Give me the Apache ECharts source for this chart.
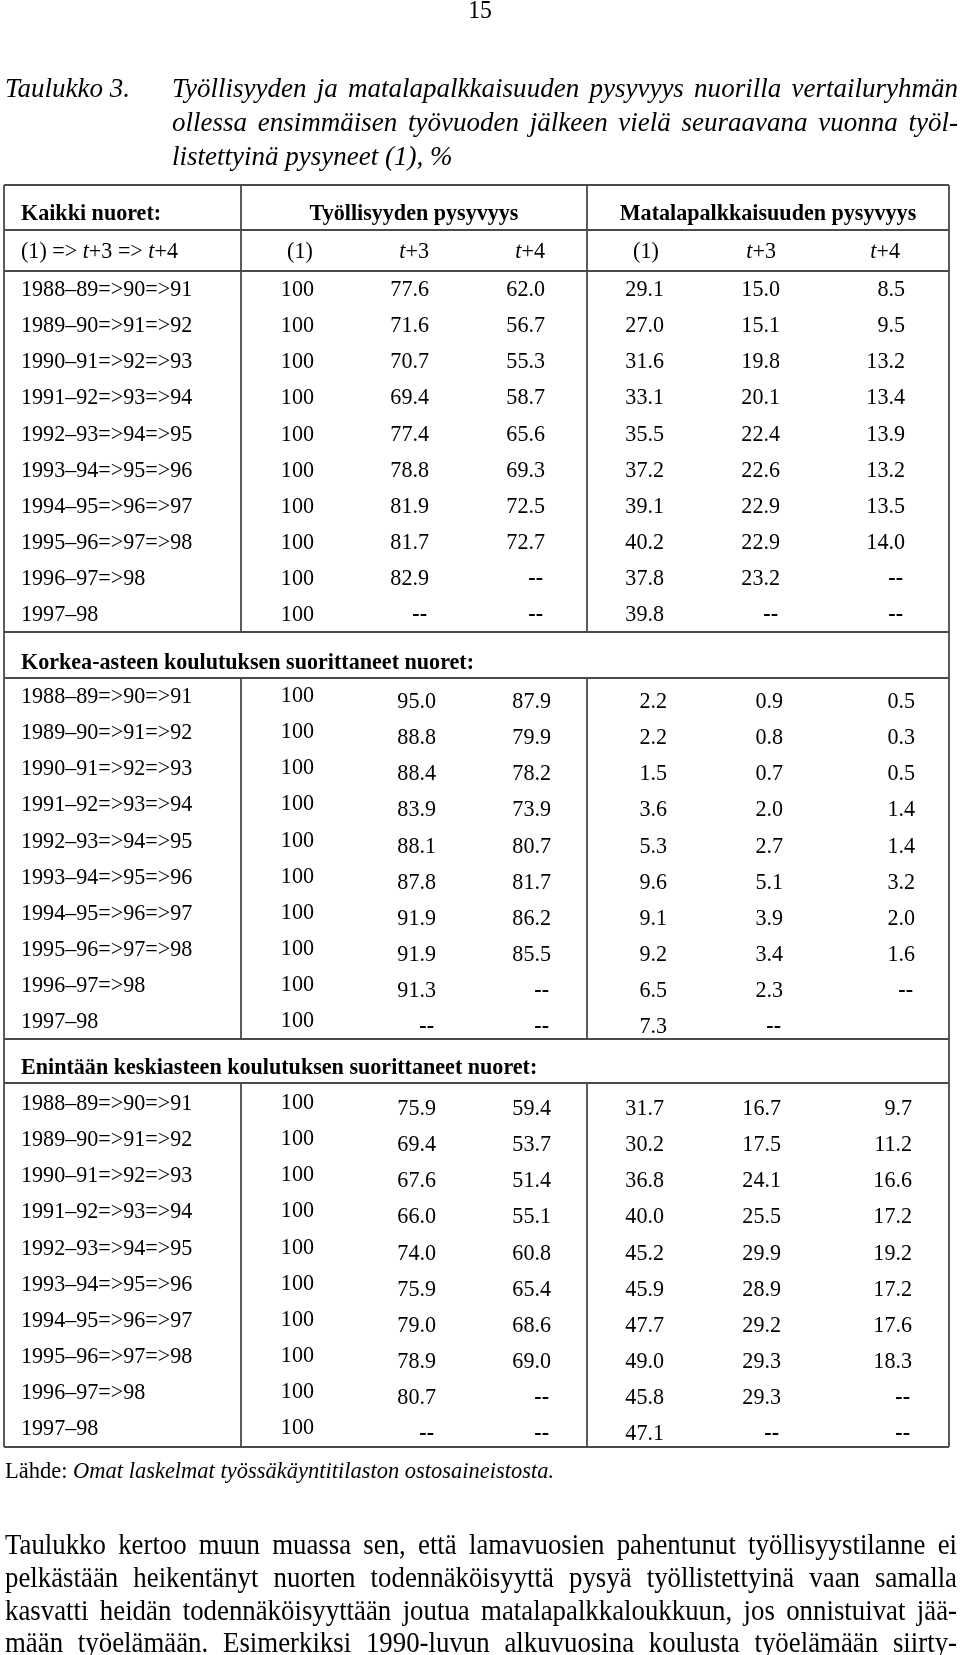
<!DOCTYPE html>
<html><head><meta charset="utf-8">
<script src="https://cdn.jsdelivr.net/npm/echarts@6/dist/echarts.min.js"></script>
<style>html,body{margin:0;padding:0;background:#fff}#c{width:960px;height:1655px}</style>
</head><body><div id="c"></div>
<script>
// ---------------- DATA ----------------
const pageNumber = '15';
const captionLabel = 'Taulukko 3.';
const captionLines = [
  'Työllisyyden ja matalapalkkaisuuden pysyvyys nuorilla vertailuryhmän',
  'ollessa ensimmäisen työvuoden jälkeen vielä seuraavana vuonna työl-',
  'listettyinä pysyneet (1), %'
];
const sectionTitles = ['Kaikki nuoret:', 'Korkea-asteen koulutuksen suorittaneet nuoret:', 'Enintään keskiasteen koulutuksen suorittaneet nuoret:'];
const groupHeads = ['Työllisyyden pysyvyys', 'Matalapalkkaisuuden pysyvyys'];
const chainHead = '(1) => {i|t}+3 => {i|t}+4';
const colHeads = ['(1)', '{i|t}+3', '{i|t}+4', '(1)', '{i|t}+3', '{i|t}+4'];
const rowLabels = ['1988–89=>90=>91', '1989–90=>91=>92', '1990–91=>92=>93', '1991–92=>93=>94', '1992–93=>94=>95',
  '1993–94=>95=>96', '1994–95=>96=>97', '1995–96=>97=>98', '1996–97=>98', '1997–98'];
const BLANK = '';
// null = "--" in the table, BLANK = empty cell
const allEmpBase = [100, 100, 100, 100, 100, 100, 100, 100, 100, 100];
const allEmpT3 = [77.6, 71.6, 70.7, 69.4, 77.4, 78.8, 81.9, 81.7, 82.9, null];
const allEmpT4 = [62.0, 56.7, 55.3, 58.7, 65.6, 69.3, 72.5, 72.7, null, null];
const allLowBase = [29.1, 27.0, 31.6, 33.1, 35.5, 37.2, 39.1, 40.2, 37.8, 39.8];
const allLowT3 = [15.0, 15.1, 19.8, 20.1, 22.4, 22.6, 22.9, 22.9, 23.2, null];
const allLowT4 = [8.5, 9.5, 13.2, 13.4, 13.9, 13.2, 13.5, 14.0, null, null];

const higherEmpBase = [100, 100, 100, 100, 100, 100, 100, 100, 100, 100];
const higherEmpT3 = [95.0, 88.8, 88.4, 83.9, 88.1, 87.8, 91.9, 91.9, 91.3, null];
const higherEmpT4 = [87.9, 79.9, 78.2, 73.9, 80.7, 81.7, 86.2, 85.5, null, null];
const higherLowBase = [2.2, 2.2, 1.5, 3.6, 5.3, 9.6, 9.1, 9.2, 6.5, 7.3];
const higherLowT3 = [0.9, 0.8, 0.7, 2.0, 2.7, 5.1, 3.9, 3.4, 2.3, null];
const higherLowT4 = [0.5, 0.3, 0.5, 1.4, 1.4, 3.2, 2.0, 1.6, null, BLANK];

const basicEmpBase = [100, 100, 100, 100, 100, 100, 100, 100, 100, 100];
const basicEmpT3 = [75.9, 69.4, 67.6, 66.0, 74.0, 75.9, 79.0, 78.9, 80.7, null];
const basicEmpT4 = [59.4, 53.7, 51.4, 55.1, 60.8, 65.4, 68.6, 69.0, null, null];
const basicLowBase = [31.7, 30.2, 36.8, 40.0, 45.2, 45.9, 47.7, 49.0, 45.8, 47.1];
const basicLowT3 = [16.7, 17.5, 24.1, 25.5, 29.9, 28.9, 29.2, 29.3, 29.3, null];
const basicLowT4 = [9.7, 11.2, 16.6, 17.2, 19.2, 17.2, 17.6, 18.3, null, null];

const sourceLabel = 'Lähde: ';
const sourceText = 'Omat laskelmat työssäkäyntitilaston ostosaineistosta.';
const paragraphLines = [
  'Taulukko kertoo muun muassa sen, että lamavuosien pahentunut työllisyystilanne ei',
  'pelkästään heikentänyt nuorten todennäköisyyttä pysyä työllistettyinä vaan samalla',
  'kasvatti heidän todennäköisyyttään joutua matalapalkkaloukkuun, jos onnistuivat jää-',
  'mään työelämään. Esimerkiksi 1990-luvun alkuvuosina koulusta työelämään siirty-'
];

// ---------------- LAYOUT / STYLE ----------------
const FAMILY = '"Liberation Serif", "Times New Roman", serif';
const FS = 23.5;          // table font size
const TSX = 0.94;         // horizontal condensing of table text
const sections = [
  [allEmpBase, allEmpT3, allEmpT4, allLowBase, allLowT3, allLowT4],
  [higherEmpBase, higherEmpT3, higherEmpT4, higherLowBase, higherLowT3, higherLowT4],
  [basicEmpBase, basicEmpT3, basicEmpT4, basicLowBase, basicLowT3, basicLowT4]
];
const L = {
  left: 4, right: 949, top: 185, bottom: 1447, div1: 241, div2: 587,
  labelX: 21, headLine: 230, subLine: 271, headY: 214, subY: 252,
  firstRow: [290, 697, 1104], rowH: 36.1,
  secLine: [null, 678, 1083], secEnd: [632, 1039, 1447],
  colRight: [
    [314, 429, 545, 664, 780, 905],
    [314, 436, 551, 667, 783, 915],
    [314, 436, 551, 664, 781, 912]
  ],
  valShift: [0, 5, 5], baseShift: [0, -1, -1],
  headCols: [[300, 'center'], [429, 'right'], [545, 'right'], [646, 'center'], [776, 'right'], [900, 'right']],
  groupCenters: [414, 768]
};
const richItalic = { i: { fontStyle: 'italic', fontSize: FS, fontFamily: FAMILY, fill: '#000' } };

const cells = [];
function addCell(x, y, text, opts) {
  cells.push(Object.assign({ x: x, y: y, text: String(text), weight: 'normal', style: 'normal', align: 'left', size: FS }, opts || {}));
}
// header
addCell(L.labelX, L.headY, sectionTitles[0], { weight: 'bold' });
groupHeads.forEach((g, i) => addCell(L.groupCenters[i], L.headY, g, { weight: 'bold', align: 'center' }));
addCell(L.labelX, L.subY, chainHead, { rich: true });
colHeads.forEach((h, i) => addCell(L.headCols[i][0], L.subY, h, { align: L.headCols[i][1], rich: true }));
// section titles
[1, 2].forEach(s => addCell(L.labelX, L.secLine[s] - 15, sectionTitles[s], { weight: 'bold' }));
// body
sections.forEach((cols, s) => {
  rowLabels.forEach((lab, r) => {
    const y = L.firstRow[s] + r * L.rowH;
    addCell(L.labelX, y, lab);
    cols.forEach((arr, c) => {
      const v = arr[r];
      if (v === BLANK) return;
      const isBase = c === 0;
      const yy = y + (isBase ? L.baseShift[s] : L.valShift[s]);
      if (v === null) addCell(L.colRight[s][c] - 2, yy, '--', { align: 'right', weight: 'bold' });
      else addCell(L.colRight[s][c], yy, isBase ? String(v) : v.toFixed(1), { align: 'right' });
    });
  });
});

// rules
const rules = [];
[L.top, L.headLine, L.subLine, L.secEnd[0], L.secLine[1], L.secEnd[1], L.secLine[2], L.bottom]
  .forEach(y => rules.push([L.left, y, L.right, y]));
rules.push([L.left, L.top, L.left, L.bottom]);
rules.push([L.right, L.top, L.right, L.bottom]);
[[L.top, L.secEnd[0]], [L.secLine[1], L.secEnd[1]], [L.secLine[2], L.bottom]].forEach(([a, b]) => {
  rules.push([L.div1, a, L.div1, b]);
  rules.push([L.div2, a, L.div2, b]);
});

// ---------------- free text (graphic) ----------------
const mctx = document.createElement('canvas').getContext('2d');
function measure(t, font) { mctx.font = font; return mctx.measureText(t).width; }
function justified(text, x0, x1, y, size, fontStyle, sx) {
  const font = fontStyle + ' ' + size + 'px ' + FAMILY;
  const words = text.split(' ');
  const widths = words.map(w => measure(w, font) * sx);
  const total = widths.reduce((a, b) => a + b, 0);
  const gap = (x1 - x0 - total) / (words.length - 1);
  let x = x0;
  return words.map((w, i) => {
    const el = { type: 'text', x: x, y: y, scaleX: sx, silent: true,
      style: { text: w, fontSize: size, fontFamily: FAMILY, fontStyle: fontStyle, fill: '#000', align: 'left', verticalAlign: 'middle' } };
    x += widths[i] + gap;
    return el;
  });
}
function plain(text, x, y, size, fontStyle, align, sx) {
  return { type: 'text', x: x, y: y, scaleX: sx || 1, silent: true,
    style: { text: text, fontSize: size, fontFamily: FAMILY, fontStyle: fontStyle || 'normal', fill: '#000', align: align || 'left', verticalAlign: 'middle' } };
}
const graphics = [];
const CAP = 28, CSX = 0.965;
graphics.push(plain(pageNumber, 480, 11, 25, 'normal', 'center', 0.95));
graphics.push(plain(captionLabel, 5, 90, CAP, 'italic', 'left', CSX));
graphics.push(...justified(captionLines[0], 172, 958, 90, CAP, 'italic', CSX));
graphics.push(...justified(captionLines[1], 172, 958, 124, CAP, 'italic', CSX));
graphics.push(plain(captionLines[2], 172, 158, CAP, 'italic', 'left', CSX));
const SRC = 23.5, SSX = 0.957;
const srcW = measure(sourceLabel, SRC + 'px ' + FAMILY) * SSX;
graphics.push(plain(sourceLabel, 5, 1472, SRC, 'normal', 'left', SSX));
graphics.push(plain(sourceText, 5 + srcW, 1472, SRC, 'italic', 'left', SSX));
const paraY = [1546, 1579, 1612, 1644];
paragraphLines.forEach((t, i) => graphics.push(...justified(t, 5, 957, paraY[i], 29, 'normal', 0.925)));

// ---------------- chart ----------------
const chart = echarts.init(document.getElementById('c'), null, { renderer: 'canvas' });
chart.setOption({
  animation: false,
  backgroundColor: '#fff',
  grid: { left: 0, right: 0, top: 0, bottom: 0, containLabel: false },
  xAxis: { type: 'value', min: 0, max: 960, show: false },
  yAxis: { type: 'value', min: 0, max: 1655, inverse: true, show: false },
  graphic: { elements: graphics },
  series: [
    {
      type: 'custom', coordinateSystem: 'cartesian2d', clip: false, silent: true,
      data: rules,
      renderItem: function (params, api) {
        const a = api.coord([api.value(0), api.value(1)]);
        const b = api.coord([api.value(2), api.value(3)]);
        return { type: 'line', shape: { x1: a[0], y1: a[1], x2: b[0], y2: b[1] },
          style: { stroke: '#4a4a4a', lineWidth: 1.8 } };
      }
    },
    {
      type: 'custom', coordinateSystem: 'cartesian2d', clip: false, silent: true,
      data: cells.map(c => [c.x, c.y]),
      renderItem: function (params, api) {
        const c = cells[params.dataIndex];
        const p = api.coord([api.value(0), api.value(1)]);
        const st = { text: c.text, fontSize: c.size, fontFamily: FAMILY, fontWeight: c.weight,
          fontStyle: c.style, fill: '#000', align: c.align, verticalAlign: 'middle' };
        if (c.rich) st.rich = richItalic;
        return { type: 'text', x: p[0], y: p[1], scaleX: TSX, style: st };
      }
    }
  ]
});
</script>
</body></html>
